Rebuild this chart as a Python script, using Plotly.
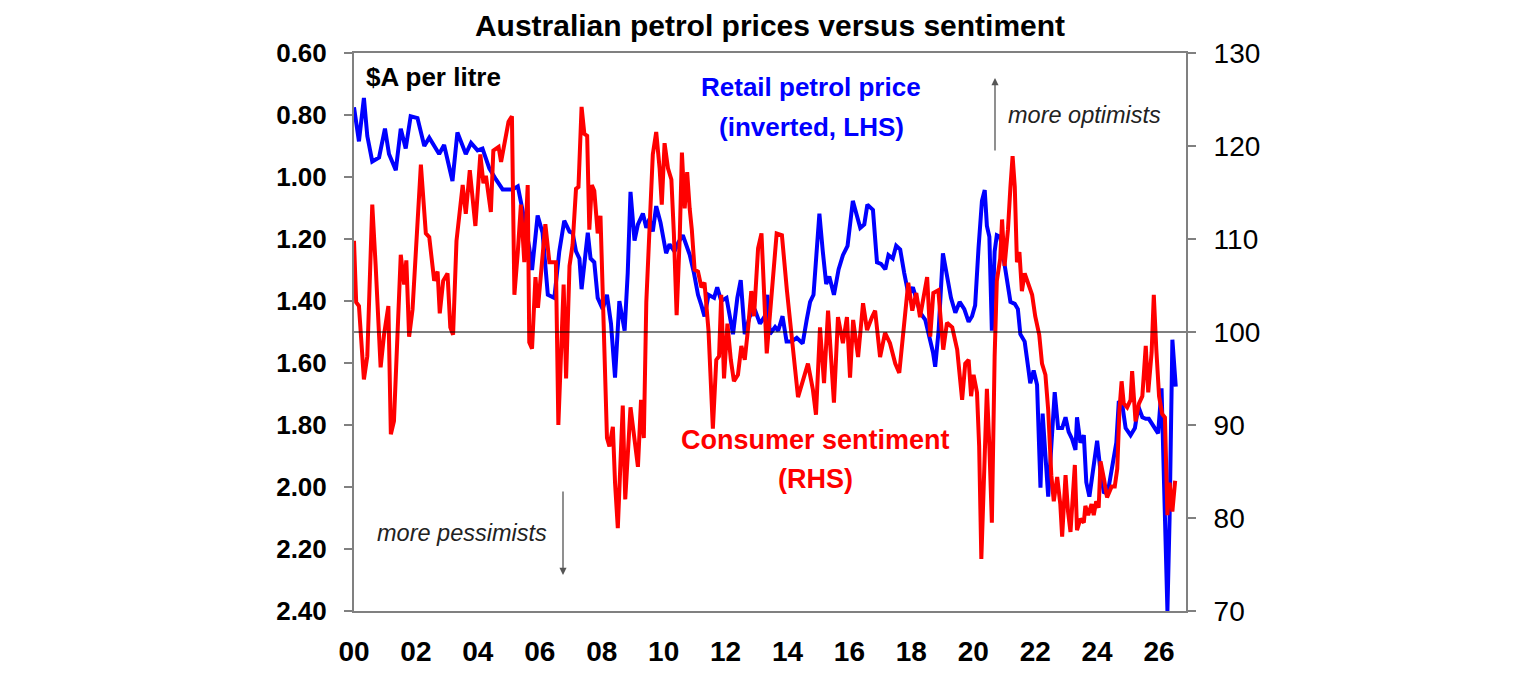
import plotly.graph_objects as go

# ---------------- data (years since Jan 2000) ----------------
petrol_t = [0.0, 0.16, 0.32, 0.43, 0.59, 0.81, 1.0, 1.13, 1.35, 1.51, 1.67, 1.83, 2.05, 2.27, 2.43, 2.75, 2.91, 3.18,
            3.34, 3.61, 3.78, 3.99, 4.15, 4.37, 4.58, 4.80, 5.12, 5.29, 5.45, 5.66, 5.75, 5.93, 6.09, 6.26,
            6.47, 6.63, 6.79, 6.96, 7.06, 7.17, 7.28, 7.35, 7.55, 7.64, 7.76, 7.87, 8.03, 8.17, 8.30, 8.43, 8.57,
            8.74, 8.84, 8.93, 9.06, 9.17, 9.33, 9.44, 9.54, 9.65, 9.76, 9.90, 10.08, 10.19, 10.35, 10.48, 10.62,
            10.73, 10.84, 10.98, 11.11, 11.22, 11.32, 11.45, 11.63, 11.73, 11.86, 12.03, 12.17, 12.24, 12.38,
            12.49, 12.62, 12.78, 12.94,
            13.11, 13.27, 13.35, 13.43, 13.60, 13.70, 13.84, 13.97, 14.13, 14.30, 14.49, 14.62, 14.73, 14.84,
            15.03, 15.14, 15.25, 15.35, 15.50, 15.65, 15.79, 15.94, 16.11, 16.24, 16.35, 16.48, 16.58, 16.76,
            16.89, 17.02, 17.16, 17.26, 17.40, 17.51, 17.64, 17.77, 17.91, 18.05, 18.18, 18.29, 18.45, 18.59,
            18.70, 18.77, 18.88, 19.02, 19.15, 19.28, 19.42, 19.56, 19.71,
            19.85, 19.96, 20.06, 20.17, 20.28, 20.37, 20.44, 20.52, 20.60, 20.69, 20.76, 20.87, 20.98, 21.09,
            21.20, 21.34, 21.44, 21.52, 21.66, 21.77, 21.84, 21.95, 22.06, 22.17, 22.24, 22.31, 22.42, 22.52,
            22.63, 22.74, 22.87, 22.98, 23.08, 23.19, 23.30, 23.35, 23.46, 23.57, 23.65, 23.75, 23.89, 24.0,
            24.11, 24.22, 24.36, 24.49, 24.62, 24.70, 24.81, 24.92, 25.08, 25.22, 25.33, 25.46, 25.57, 25.67,
            25.78, 25.89, 25.97, 26.08, 26.19, 26.27, 26.34, 26.43, 26.54]
petrol_price = [0.775, 0.885, 0.745, 0.868, 0.95, 0.937, 0.844, 0.926, 0.978, 0.844, 0.908, 0.804, 0.81, 0.90, 0.873,
                0.926, 0.897, 1.013, 0.856, 0.926, 0.89, 0.914, 0.908, 0.972, 1.007, 1.04, 1.04, 1.03, 1.11, 1.228,
                1.30, 1.124, 1.18, 1.38,
                1.39, 1.24, 1.141, 1.176, 1.18, 1.24, 1.263, 1.362, 1.18, 1.263, 1.275, 1.39, 1.426, 1.38, 1.473,
                1.647, 1.40, 1.496, 1.31, 1.048, 1.205, 1.153, 1.118, 1.164, 1.135, 1.176, 1.094, 1.147, 1.246,
                1.217, 1.24, 1.21, 1.188, 1.222, 1.25, 1.31, 1.38, 1.414, 1.45, 1.38, 1.39, 1.356, 1.40, 1.39,
                1.46, 1.507, 1.39, 1.333, 1.507, 1.45, 1.426,
                1.473, 1.449, 1.38, 1.507, 1.484, 1.496, 1.449, 1.531, 1.531, 1.519, 1.537, 1.461, 1.403, 1.38,
                1.118, 1.24, 1.345, 1.321, 1.38, 1.298, 1.252, 1.222, 1.077, 1.124, 1.164, 1.153, 1.089, 1.106,
                1.275, 1.28, 1.298, 1.252, 1.263, 1.222, 1.234, 1.31, 1.38, 1.356, 1.403, 1.438, 1.461, 1.519,
                1.566, 1.612, 1.496, 1.246, 1.321, 1.39, 1.438, 1.403, 1.426,
                1.467, 1.449, 1.414, 1.228, 1.077, 1.042, 1.158, 1.193, 1.496, 1.24, 1.188, 1.193, 1.263, 1.345,
                1.403, 1.409, 1.426, 1.507, 1.531, 1.612, 1.665, 1.624, 1.67, 2.002, 1.763, 1.868, 2.031, 1.868,
                1.694, 1.81, 1.81, 1.775, 1.822, 1.845, 1.88, 1.775, 1.857, 1.833, 1.985, 2.031, 1.938, 1.851,
                1.95, 2.02, 2.008, 1.938, 1.857, 1.723, 1.734, 1.81, 1.833, 1.81, 1.74, 1.775, 1.78, 1.78,
                1.798, 1.81, 1.827, 1.682, 2.10, 2.40, 2.10, 1.525, 1.676]

sent_t = [0.0, 0.07, 0.16, 0.32, 0.43, 0.59, 0.70, 0.86, 0.97, 1.11, 1.19, 1.29, 1.51, 1.62, 1.69, 1.78, 1.89, 2.16,
          2.32, 2.43, 2.59, 2.70, 2.77, 2.88, 3.02, 3.11, 3.20, 3.31, 3.51, 3.61, 3.74, 3.92, 4.08, 4.18, 4.26,
          4.42, 4.50, 4.67, 4.75, 4.85, 4.99, 5.10, 5.18, 5.29, 5.39, 5.50, 5.61, 5.66, 5.75, 5.86, 5.94, 6.04,
          6.18, 6.31,
          6.52, 6.60, 6.69, 6.77, 6.85, 6.96, 7.06, 7.17, 7.25, 7.35, 7.44, 7.53, 7.60, 7.68, 7.76, 7.87, 7.96,
          8.07, 8.17, 8.25, 8.36, 8.43, 8.52, 8.68, 8.76, 8.93, 9.06, 9.17, 9.27, 9.36, 9.44, 9.54, 9.65, 9.76,
          9.87, 9.94, 10.03, 10.14, 10.25, 10.33, 10.42, 10.52, 10.59, 10.68, 10.76, 10.84, 10.91, 11.0, 11.11,
          11.22, 11.32, 11.45, 11.59, 11.70, 11.79, 11.86, 11.95, 12.06, 12.17, 12.27, 12.40, 12.51, 12.62,
          12.73, 12.83, 12.92, 13.05,
          13.16, 13.33, 13.65, 13.82, 13.98, 14.14, 14.34, 14.50, 14.66, 14.82, 14.92, 15.05, 15.18, 15.31,
          15.44, 15.50, 15.63, 15.79, 15.92, 16.02, 16.12, 16.28, 16.44, 16.57, 16.73, 16.83, 16.99, 17.15,
          17.31, 17.48, 17.61, 17.74, 17.90, 18.03, 18.16, 18.28, 18.51, 18.61, 18.71, 18.87, 19.03, 19.15,
          19.32, 19.48, 19.64,
          19.74, 19.85, 19.93, 20.01, 20.12, 20.19, 20.26, 20.33, 20.44, 20.52, 20.60, 20.69, 20.76, 20.87,
          20.93, 21.01, 21.12, 21.20, 21.27, 21.34, 21.41, 21.49, 21.57, 21.66, 21.79, 21.90, 22.0, 22.13,
          22.22, 22.33, 22.42, 22.52, 22.60, 22.71, 22.81, 22.87, 22.98, 23.06, 23.14, 23.28, 23.35, 23.46,
          23.57, 23.62, 23.71, 23.82, 23.89, 23.97, 24.05, 24.11, 24.22, 24.32, 24.47, 24.57, 24.65, 24.72,
          24.79, 24.86, 24.97, 25.08, 25.13, 25.24, 25.35, 25.46, 25.57, 25.65, 25.76, 25.83, 25.91, 26.0,
          26.10, 26.19, 26.27, 26.34, 26.43, 26.52]
sentiment = [109.8, 103.2, 102.8, 94.9, 97.4, 113.7, 107.1, 96.2, 99.7, 102.8, 89.0, 90.4, 108.3, 105.1, 107.7, 99.5,
             102.4, 118.0, 110.6, 110.2, 105.5, 106.5, 102.0, 105.5, 106.3, 100.5, 99.7, 109.8, 115.8, 112.7,
             117.4, 111.4, 119.1, 116.0, 116.8, 112.9, 119.5, 119.9, 118.3, 119.9, 122.6, 123.2, 104.0, 108.6,
             113.7, 107.5, 115.8, 98.9, 98.2, 105.9, 102.6, 106.3, 111.6, 107.5,
             107.5, 90.0, 98.5, 105.1, 95.0, 107.1, 109.4, 115.4, 115.6, 124.2, 121.3, 121.1, 111.0, 115.8,
             115.2, 110.6, 112.5, 101.3, 88.6, 87.7, 89.8, 83.8, 78.9, 92.1, 82.0, 91.9, 88.4, 85.5, 92.7, 88.6,
             103.2, 111.0, 119.1, 121.5, 117.6, 113.7, 120.3, 117.6, 116.4, 110.6, 101.8, 110.2, 119.3, 113.3,
             117.2, 113.3, 111.0, 106.7, 106.5, 104.8, 105.3, 100.1, 89.6, 97.0, 97.4, 104.0, 95.0, 100.9, 97.0,
             94.7, 95.4, 98.5, 97.0, 100.5, 104.4, 101.7, 109.0,
             110.6, 97.7, 110.6, 110.4, 104.5, 99.5, 93.0, 94.8, 96.6, 93.8, 91.1, 100.5, 94.5, 102.3, 96.2,
             92.4, 101.6, 98.8, 101.6, 95.1, 101.3, 97.3, 103.1, 100.2, 101.6, 102.3, 97.3, 99.9, 98.8, 96.6,
             95.6, 99.9, 105.3, 102.3, 104.2, 101.6, 105.9, 99.5, 104.2, 104.5, 98.1, 101.0, 100.5, 98.1, 92.7,
             96.6, 97.0, 93.1, 95.4, 93.5, 87.7, 75.6, 83.8, 93.9, 87.7, 79.5, 97.4, 105.5, 107.9, 112.1, 107.1,
             111.0, 115.6, 118.9, 115.6, 107.5, 108.6, 104.4, 106.3, 105.1, 104.0, 101.7, 99.7, 96.6, 95.4,
             91.6, 84.6, 81.8, 84.4, 81.5, 78.0, 84.6, 80.7, 78.5, 85.7, 78.7, 79.9, 79.5, 81.3, 80.3, 81.5,
             80.3, 81.8, 81.1, 86.1, 84.2, 82.2, 83.4, 83.4, 85.3, 91.6, 94.7, 92.3, 91.9, 92.7, 95.8, 90.4,
             92.3, 93.1, 98.5, 93.5, 97.8, 104.0, 98.2, 93.1, 91.2, 90.8, 80.3, 83.8, 80.7, 84.0]

x_tickvals = [0, 2, 4, 6, 8, 10, 12, 14, 16, 18, 20, 22, 24, 26]
x_ticktext = ["00", "02", "04", "06", "08", "10", "12", "14", "16", "18", "20", "22", "24", "26"]
left_ticks = [0.6, 0.8, 1.0, 1.2, 1.4, 1.6, 1.8, 2.0, 2.2, 2.4]
left_ticktext = ["0.60", "0.80", "1.00", "1.20", "1.40", "1.60", "1.80", "2.00", "2.20", "2.40"]
right_ticks = [70, 80, 90, 100, 110, 120, 130]

FONT = "Arial, 'Liberation Sans', sans-serif"
AXC = "#808080"

fig = go.Figure()
fig.add_trace(go.Scatter(x=petrol_t, y=petrol_price, mode="lines", yaxis="y",
                         line=dict(color="#0000FF", width=4), showlegend=False))
fig.add_trace(go.Scatter(x=sent_t, y=sentiment, mode="lines", yaxis="y2",
                         line=dict(color="#FF0000", width=4), showlegend=False))

fig.add_shape(type="line", xref="paper", x0=0, x1=1, yref="y2", y0=100, y1=100,
              line=dict(color="black", width=1.2), layer="above")

fig.update_layout(
    width=1536, height=680,
    margin=dict(l=354, r=350, t=53, b=69),
    paper_bgcolor="white", plot_bgcolor="white",
    font=dict(family=FONT, color="black"),
    title=dict(text="Australian petrol prices versus sentiment", x=0.5, xref="paper", xanchor="center",
               y=1 - 25 / 680, yref="container", yanchor="middle",
               font=dict(size=30, weight="bold", family=FONT, color="black")),
    xaxis=dict(range=[0, 26.87], tickvals=x_tickvals, ticktext=x_ticktext, showgrid=False, zeroline=False,
               showline=True, mirror=True, linecolor=AXC, linewidth=2, ticks="",
               tickfont=dict(size=28, weight="bold", family=FONT, color="black"), ticklabelstandoff=14),
    yaxis=dict(range=[2.4, 0.6], tickvals=left_ticks, ticktext=left_ticktext, showgrid=False, zeroline=False,
               showline=True, linecolor=AXC, linewidth=2, ticks="outside", ticklen=8, tickcolor=AXC,
               tickwidth=2, tickfont=dict(size=26, weight="bold", family=FONT, color="black"),
               ticklabelstandoff=12),
    yaxis2=dict(range=[70, 130], tickvals=right_ticks, overlaying="y", side="right", showgrid=False,
                zeroline=False, showline=True, linecolor=AXC, linewidth=2, ticks="outside", ticklen=8,
                tickcolor=AXC, tickwidth=2, tickfont=dict(size=28, family=FONT, color="black"),
                ticklabelstandoff=12),
)

def px(xp):
    return (xp - 354) / 832

def py(yp):
    return (611 - yp) / 558

annos = [
    dict(text="<b>$A per litre</b>", x=px(364), y=py(77), xanchor="left", yanchor="middle",
         font=dict(size=26, color="black")),
    dict(text="<b>Retail petrol price</b>", x=px(811), y=py(87), xanchor="center", yanchor="middle",
         font=dict(size=26, color="#0000FF")),
    dict(text="<b>(inverted, LHS)</b>", x=px(811), y=py(127), xanchor="center", yanchor="middle",
         font=dict(size=26, color="#0000FF")),
    dict(text="<b>Consumer sentiment</b>", x=px(815), y=py(440), xanchor="center", yanchor="middle",
         font=dict(size=27, color="#FF0000")),
    dict(text="<b>(RHS)</b>", x=px(815), y=py(479), xanchor="center", yanchor="middle",
         font=dict(size=27, color="#FF0000")),
    dict(text="<i>more optimists</i>", x=px(1006), y=py(115), xanchor="left", yanchor="middle",
         font=dict(size=23.5, color="#222222")),
    dict(text="<i>more pessimists</i>", x=px(375), y=py(533), xanchor="left", yanchor="middle",
         font=dict(size=23.5, color="#222222")),
]
for a in annos:
    fig.add_annotation(xref="paper", yref="paper", showarrow=False, **a)

fig.add_annotation(xref="paper", yref="paper", x=px(995), y=py(78), ax=0, ay=74, text="",
                   showarrow=True, arrowhead=2, arrowsize=1.1, arrowwidth=1.3, arrowcolor="#555555")
fig.add_annotation(xref="paper", yref="paper", x=px(563), y=py(575), ax=0, ay=-85, text="",
                   showarrow=True, arrowhead=2, arrowsize=1.1, arrowwidth=1.3, arrowcolor="#555555")

fig.write_html("out.html")
